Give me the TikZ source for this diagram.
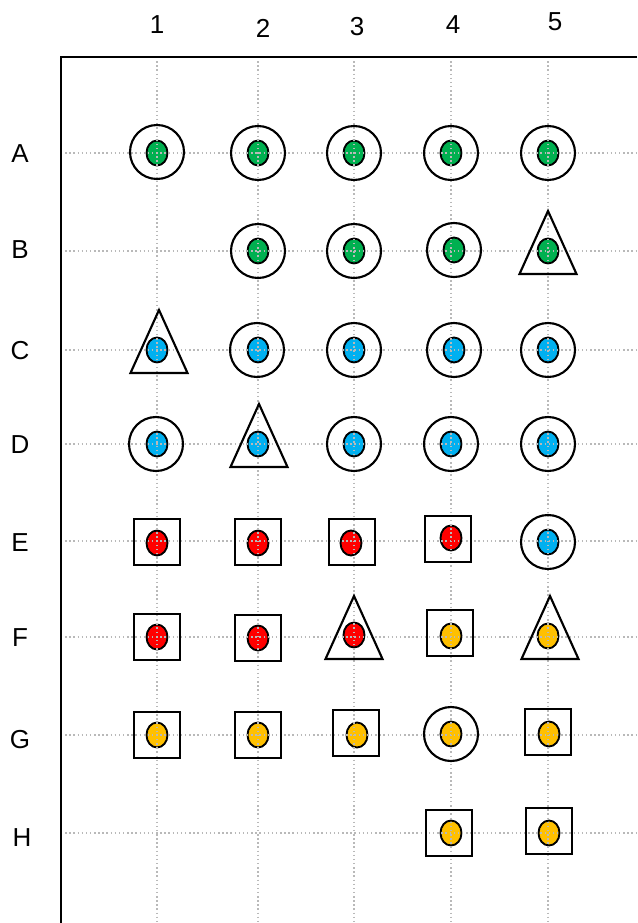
\documentclass[tikz,border=0pt]{standalone}
\usepackage{fontspec}
\setmainfont{Liberation Sans}
\usetikzlibrary{shapes.geometric,calc}
\definecolor{gG}{HTML}{00B050}
\definecolor{bB}{HTML}{00B0F0}
\definecolor{rR}{HTML}{FF0000}
\definecolor{yY}{HTML}{FFC000}
\begin{document}
\begin{tikzpicture}[x=0.75pt,y=-0.75pt,
  gridline/.style={gray!55, line width=0.9pt, dash pattern=on 1.1pt off 2pt},
  axisline/.style={black, line width=1.5pt},
  ring/.style={circle, draw, line width=1.6pt, minimum size=40.5pt, inner sep=0pt},
  boxm/.style={rectangle, draw, line width=1.7pt, minimum size=34.5pt, inner sep=0pt},
  trim/.style={draw, line width=1.6pt, line join=miter},
  dotm/.style={ellipse, draw, line width=1.4pt, minimum width=15.75pt, minimum height=18.75pt, inner sep=0pt},
  collab/.style={font=\fontsize{19.5}{22}\selectfont, inner sep=0pt},
  rowlab/.style={font=\fontsize{19.5}{22}\selectfont, inner sep=0pt}]
\useasboundingbox (0,0) rectangle (637,923);
% inner dots
\foreach \n/\x/\y/\c in {
 A1/157/153/gG, A2/258/153/gG, A3/354/153/gG, A4/451/153/gG, A5/548/153/gG,
 B2/258/251/gG, B3/354/251/gG, B4/454/250/gG, B5/548/251/gG,
 C1/157/350/bB, C2/258/350/bB, C3/354/350/bB, C4/454/350/bB, C5/548/350/bB,
 D1/157/444/bB, D2/258/444/bB, D3/354/444/bB, D4/451/444/bB, D5/548/444/bB,
 E1/157/543/rR, E2/258/543/rR, E3/351/543/rR, E4/451/538/rR, E5/548/542/bB,
 F1/157/637/rR, F2/258/638/rR, F3/354/635/rR, F4/451/636/yY, F5/548/636/yY,
 G1/157/735/yY, G2/258/735/yY, G3/357/735/yY, G4/451/734/yY, G5/549/734/yY,
 H4/451/833/yY, H5/549/833/yY}
 { \node[dotm, fill=\c] (\n) at (\x,\y) {}; }
% grid
\coordinate (tl) at (61,57);
\foreach \x/\k in {157/1,258/2,354/3,451/4,548/5}
 { \coordinate (vt\k) at (\x,57); \coordinate (vb\k) at (\x,923);
   \draw[gridline] (vt\k) -- (vb\k); }
\foreach \y/\k in {153/A,251/B,350/C,444/D,541/E,637/F,735/G,833/H}
 { \coordinate (hl\k) at (61,\y); \coordinate (hr\k) at (637,\y);
   \draw[gridline] (hl\k) -- (hr\k); }
% rings
\foreach \n/\x/\y in {A1/157/152, A2/258/153, A3/354/153, A4/451/153, A5/548/153,
 B2/258/251, B3/354/251, B4/454/250, C2/257/350, C3/354/350, C4/454/350, C5/548/350,
 D1/156/444, D3/354/444, D4/451/444, D5/548/444, E5/548/542, G4/451/734}
 { \node[ring] (o\n) at (\x,\y) {}; }
% boxes
\foreach \n/\x/\y in {E1/157/542, E2/258/542, E3/352/542, E4/448/539,
 F1/157/637, F2/258/638, F4/450/633, G1/157/735, G2/258/735, G3/356/733, G5/548/732,
 H4/449/833, H5/549/831}
 { \node[boxm] (o\n) at (\x,\y) {}; }
% triangles
\foreach \n/\x/\y in {B5/548/251, C1/159/350, D2/259/444, F3/354/636, F5/550/636}
 { \coordinate (o\n) at (\x,\y);
   \draw[trim] ([shift={(0,-40)}]o\n) -- ([shift={(-28.5,23)}]o\n) -- ([shift={(28.5,23)}]o\n) -- cycle; }
% axes
\coordinate (tr) at (637,57);
\coordinate (bl) at (61,923);
\draw[axisline] (tr) -- (tl) -- (bl);
% labels
\node[collab] (c1) at (157,25) {1};
\node[collab] (c2) at (263,28) {2};
\node[collab] (c3) at (357,27) {3};
\node[collab] (c4) at (453,25) {4};
\node[collab] (c5) at (555,22) {5};
\node[rowlab] (rA) at (20,154) {A};
\node[rowlab] (rB) at (20,250) {B};
\node[rowlab] (rC) at (20,351) {C};
\node[rowlab] (rD) at (20,445) {D};
\node[rowlab] (rE) at (20,543) {E};
\node[rowlab] (rF) at (20,638) {F};
\node[rowlab] (rG) at (20,740) {G};
\node[rowlab] (rH) at (22,838) {H};
\end{tikzpicture}
\end{document}
